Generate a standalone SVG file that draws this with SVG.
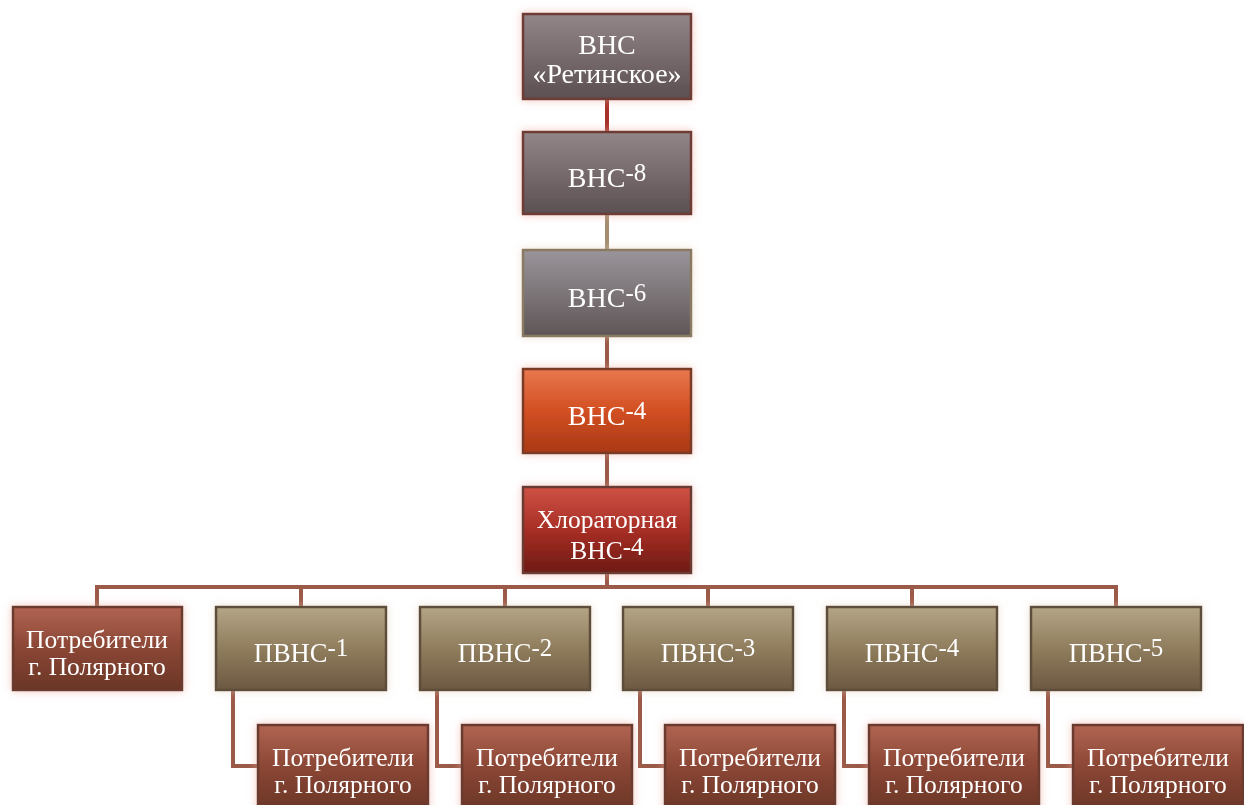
<svg xmlns="http://www.w3.org/2000/svg" width="1244" height="805" viewBox="0 0 1244 805">
<defs>
<linearGradient id="gGray" x1="0" y1="0" x2="0" y2="1"><stop offset="0" stop-color="#938689"/><stop offset="1" stop-color="#5b4f51"/></linearGradient>
<linearGradient id="gGray2" x1="0" y1="0" x2="0" y2="1"><stop offset="0" stop-color="#9a959b"/><stop offset="1" stop-color="#5f5556"/></linearGradient>
<linearGradient id="gOrange" x1="0" y1="0" x2="0" y2="1"><stop offset="0" stop-color="#e9774e"/><stop offset="0.5" stop-color="#d24f22"/><stop offset="1" stop-color="#a93815"/></linearGradient>
<linearGradient id="gRed" x1="0" y1="0" x2="0" y2="1"><stop offset="0" stop-color="#cf5245"/><stop offset="0.5" stop-color="#a72e25"/><stop offset="1" stop-color="#6e1a14"/></linearGradient>
<linearGradient id="gBrown" x1="0" y1="0" x2="0" y2="1"><stop offset="0" stop-color="#b06452"/><stop offset="0.5" stop-color="#8a4634"/><stop offset="1" stop-color="#6a3627"/></linearGradient>
<linearGradient id="gTan" x1="0" y1="0" x2="0" y2="1"><stop offset="0" stop-color="#b5a587"/><stop offset="0.5" stop-color="#8f7d5d"/><stop offset="1" stop-color="#6c5842"/></linearGradient>
<filter id="glow" x="-20%" y="-30%" width="140%" height="160%">
<feGaussianBlur in="SourceAlpha" stdDeviation="4" result="b"/>
<feFlood flood-color="#e8a090" flood-opacity="0.6"/>
<feComposite in2="b" operator="in" result="g"/>
<feMerge><feMergeNode in="g"/><feMergeNode in="SourceGraphic"/></feMerge>
</filter>
<filter id="glowTan" x="-20%" y="-30%" width="140%" height="160%">
<feGaussianBlur in="SourceAlpha" stdDeviation="4" result="b"/>
<feFlood flood-color="#e0c8b0" flood-opacity="0.55"/>
<feComposite in2="b" operator="in" result="g"/>
<feMerge><feMergeNode in="g"/><feMergeNode in="SourceGraphic"/></feMerge>
</filter>
</defs>
<style>
.box{stroke-width:2.5}
.t{font-family:"Liberation Serif","Times New Roman",serif;font-size:26.5px;fill:#ffffff;text-anchor:middle}
.t2{font-size:25.5px}
.tl{font-size:28px}
.sup{font-size:25px}
.c{fill:none;stroke:#9b5a48;stroke-width:4}
</style>
<rect width="1244" height="805" fill="#ffffff"/>
<g id="connectors">
<line x1="607" y1="99" x2="607" y2="132" style="fill:none;stroke:#a8322a;stroke-width:4"/>
<line x1="607" y1="214" x2="607" y2="250" style="fill:none;stroke:#a58e70;stroke-width:4"/>
<line class="c" x1="607" y1="336" x2="607" y2="369"/>
<line class="c" x1="607" y1="453" x2="607" y2="487"/>
<line class="c" x1="607" y1="573" x2="607" y2="587"/>
<polyline class="c" points="97,607 97,587 1116,587 1116,607"/>
<line class="c" x1="301" y1="587" x2="301" y2="607"/>
<line class="c" x1="505" y1="587" x2="505" y2="607"/>
<line class="c" x1="708" y1="587" x2="708" y2="607"/>
<line class="c" x1="912" y1="587" x2="912" y2="607"/>
<polyline class="c" points="233,690 233,766 258,766"/>
<polyline class="c" points="437,690 437,766 462,766"/>
<polyline class="c" points="640,690 640,766 665,766"/>
<polyline class="c" points="844,690 844,766 869,766"/>
<polyline class="c" points="1048,690 1048,766 1073,766"/>
</g>
<g id="n1" filter="url(#glow)"><rect class="box" x="523" y="14" width="168" height="85" fill="url(#gGray)" stroke="#6e3a34"/>
<text class="t tl" x="607" y="54">ВНС</text><text class="t tl" x="607" y="83">«Ретинское»</text></g>
<g id="n2" filter="url(#glow)"><rect class="box" x="523" y="132" width="168" height="82" fill="url(#gGray)" stroke="#6e3a34"/>
<text class="t tl" x="607" y="187">ВНС<tspan class="sup" dy="-6">-8</tspan></text></g>
<g id="n3" filter="url(#glowTan)"><rect class="box" x="523" y="250" width="168" height="86" fill="url(#gGray2)" stroke="#8a7a62"/>
<text class="t tl" x="607" y="307">ВНС<tspan class="sup" dy="-6">-6</tspan></text></g>
<g id="n4" filter="url(#glow)"><rect class="box" x="523" y="369" width="168" height="84" fill="url(#gOrange)" stroke="#7a3a28"/>
<text class="t tl" x="607" y="425">ВНС<tspan class="sup" dy="-6">-4</tspan></text></g>
<g id="n5" filter="url(#glow)"><rect class="box" x="523" y="487" width="168" height="86" fill="url(#gRed)" stroke="#6a3a32"/>
<text class="t t2" x="607" y="528">Хлораторная</text><text class="t t2" x="607" y="559">ВНС<tspan class="sup" dy="-4">-4</tspan></text></g>
<g id="p0" filter="url(#glow)"><rect class="box" x="13" y="607" width="169" height="83" fill="url(#gBrown)" stroke="#6a3a2e"/>
<text class="t t2" x="97" y="648">Потребители</text><text class="t t2" x="97" y="675">г. Полярного</text></g>
<g id="p1" filter="url(#glowTan)"><rect class="box" x="216" y="607" width="170" height="83" fill="url(#gTan)" stroke="#5e4e3a"/>
<text class="t" x="301" y="662">ПВНС<tspan class="sup" dy="-6">-1</tspan></text></g>
<g id="p2" filter="url(#glowTan)"><rect class="box" x="420" y="607" width="170" height="83" fill="url(#gTan)" stroke="#5e4e3a"/>
<text class="t" x="505" y="662">ПВНС<tspan class="sup" dy="-6">-2</tspan></text></g>
<g id="p3" filter="url(#glowTan)"><rect class="box" x="623" y="607" width="170" height="83" fill="url(#gTan)" stroke="#5e4e3a"/>
<text class="t" x="708" y="662">ПВНС<tspan class="sup" dy="-6">-3</tspan></text></g>
<g id="p4" filter="url(#glowTan)"><rect class="box" x="827" y="607" width="170" height="83" fill="url(#gTan)" stroke="#5e4e3a"/>
<text class="t" x="912" y="662">ПВНС<tspan class="sup" dy="-6">-4</tspan></text></g>
<g id="p5" filter="url(#glowTan)"><rect class="box" x="1031" y="607" width="170" height="83" fill="url(#gTan)" stroke="#5e4e3a"/>
<text class="t" x="1116" y="662">ПВНС<tspan class="sup" dy="-6">-5</tspan></text></g>
<g id="c1" filter="url(#glow)"><rect class="box" x="258" y="725" width="170" height="86" fill="url(#gBrown)" stroke="#6a3a2e"/>
<text class="t t2" x="343" y="766">Потребители</text><text class="t t2" x="343" y="793">г. Полярного</text></g>
<g id="c2" filter="url(#glow)"><rect class="box" x="462" y="725" width="170" height="86" fill="url(#gBrown)" stroke="#6a3a2e"/>
<text class="t t2" x="547" y="766">Потребители</text><text class="t t2" x="547" y="793">г. Полярного</text></g>
<g id="c3" filter="url(#glow)"><rect class="box" x="665" y="725" width="170" height="86" fill="url(#gBrown)" stroke="#6a3a2e"/>
<text class="t t2" x="750" y="766">Потребители</text><text class="t t2" x="750" y="793">г. Полярного</text></g>
<g id="c4" filter="url(#glow)"><rect class="box" x="869" y="725" width="170" height="86" fill="url(#gBrown)" stroke="#6a3a2e"/>
<text class="t t2" x="954" y="766">Потребители</text><text class="t t2" x="954" y="793">г. Полярного</text></g>
<g id="c5" filter="url(#glow)"><rect class="box" x="1073" y="725" width="170" height="86" fill="url(#gBrown)" stroke="#6a3a2e"/>
<text class="t t2" x="1158" y="766">Потребители</text><text class="t t2" x="1158" y="793">г. Полярного</text></g>
</svg>
